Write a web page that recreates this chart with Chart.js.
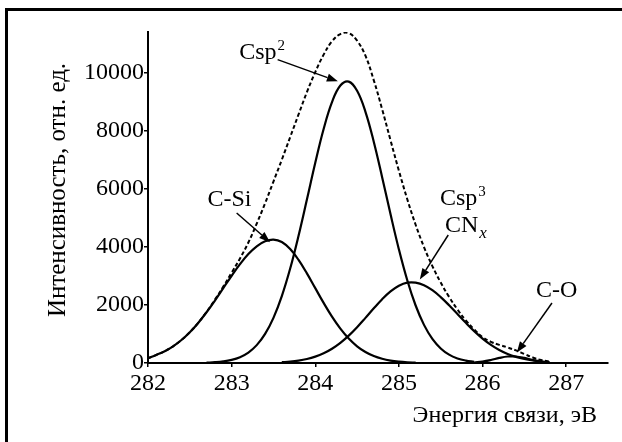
<!DOCTYPE html>
<html>
<head>
<meta charset="utf-8">
<script src="https://cdn.jsdelivr.net/npm/chart.js@4"></script>
<style>
  html, body { margin: 0; padding: 0; background: #fff; overflow: hidden; }
  #wrap { width: 622px; height: 442px; }
</style>
</head>
<body>
<div id="wrap"><canvas id="xps" width="622" height="442"></canvas></div>
<script>
// Binding energy grid, eV (282.0 ... 286.8, step 0.1)
const energy = [
    282.0, 282.1, 282.2, 282.3, 282.4, 282.5, 282.6, 282.7, 282.8, 282.9,
    283.0, 283.1, 283.2, 283.3, 283.4, 283.5, 283.6, 283.7, 283.8, 283.9,
    284.0, 284.1, 284.2, 284.3, 284.4, 284.5, 284.6, 284.7, 284.8, 284.9,
    285.0, 285.1, 285.2, 285.3, 285.4, 285.5, 285.6, 285.7, 285.8, 285.9,
    286.0, 286.1, 286.2, 286.3, 286.4, 286.5, 286.6, 286.7, 286.8
];

// Fitted components (null = not drawn)
const cSi = [
    160, 279, 406, 575, 791, 1060, 1380, 1747, 2152, 2578,
    3003, 3403, 3751, 4020, 4191, 4250, 4166, 3923, 3550, 3087,
    2578, 2069, 1595, 1182, 841, 575, 378, 238, 145, 84,
    47, 25, 13, null, null, null, null, null, null, null,
    null, null, null, null, null, null, null, null, null
];
const cSp2 = [
    null, null, null, null, null, null, null, 12, 27, 55,
    108, 202, 361, 616, 1003, 1556, 2304, 3252, 4381, 5628,
    6897, 8060, 8985, 9555, 9691, 9376, 8651, 7614, 6393, 5120,
    3912, 2850, 1980, 1313, 830, 501, 288, 158, 83, 41,
    null, null, null, null, null, null, null, null, null
];
const cSp3 = [
    null, null, null, null, null, null, null, null, null, null,
    null, null, null, null, null, null, 27, 49, 84, 138,
    219, 334, 490, 693, 942, 1233, 1554, 1883, 2197, 2465,
    2662, 2767, 2767, 2679, 2507, 2270, 1989, 1686, 1383, 1097,
    842, 625, 449, 312, 210, 137, 86, 52, 31
];
const cO = [
    null, null, null, null, null, null, null, null, null, null,
    null, null, null, null, null, null, null, null, null, null,
    null, null, null, null, null, null, null, null, null, null,
    null, null, null, null, null, null, null, null, null, 18,
    50, 105, 174, 223, 223, 174, 105, 50, 18
];
// Envelope (dashed)
const envelope = [
    160, 279, 406, 575, 791, 1060, 1380, 1760, 2180, 2630,
    3110, 3600, 4150, 4800, 5500, 6250, 7000, 7780, 8560, 9330,
    10020, 10620, 11080, 11330, 11360, 11100, 10583, 9735, 8735, 7669,
    6621, 5642, 4760, 3992, 3337, 2771, 2277, 1844, 1466, 1156,
    892, 730, 623, 535, 433, 311, 191, 102, 49
];

const xTicks = [282, 283, 284, 285, 286, 287];
const yTicks = [0, 2000, 4000, 6000, 8000, 10000];

const xTitle = 'Энергия связи, эВ';
const yTitle = 'Интенсивность, отн. ед.';

// Peak labels: text, sup/sub, anchor (data units), arrow from -> to (data units)
const labels = [
    { text: 'Csp', sup: '2', x: 283.09, y: 10480, from: [283.55, 10450], to: [284.27, 9700] },
    { text: 'C-Si', x: 282.71, y: 5420, from: [283.06, 5166], to: [283.46, 4160] },
    { text: 'Csp', sup: '3', x: 285.49, y: 5442 },
    { text: 'CN', sub: 'x', x: 285.55, y: 4512, from: [285.59, 4408], to: [285.25, 2880] },
    { text: 'C-O', x: 286.64, y: 2273, from: [286.83, 2066], to: [286.41, 360] }
];

const FONT = '"Liberation Serif", "Times New Roman", serif';

function points(vals) {
    const out = [];
    vals.forEach((v, i) => { if (v !== null) out.push({ x: energy[i], y: v }); });
    return out;
}

function drawArrow(ctx, x1, y1, x2, y2) {
    const ang = Math.atan2(y2 - y1, x2 - x1);
    const len = 11, half = 4;
    const bx = x2 - len * Math.cos(ang), by = y2 - len * Math.sin(ang);
    ctx.beginPath();
    ctx.moveTo(x1, y1);
    ctx.lineTo(bx, by);
    ctx.stroke();
    ctx.beginPath();
    ctx.moveTo(x2, y2);
    ctx.lineTo(bx - half * Math.sin(ang), by + half * Math.cos(ang));
    ctx.lineTo(bx + half * Math.sin(ang), by - half * Math.cos(ang));
    ctx.closePath();
    ctx.fill();
}

const decorPlugin = {
    id: 'decor',
    afterDraw(chart) {
        const ctx = chart.ctx;
        const xs = chart.scales.x, ys = chart.scales.y;
        ctx.save();
        ctx.fillStyle = '#000';
        ctx.strokeStyle = '#000';

        // outer frame (left and top edges visible)
        ctx.fillRect(5, 8, 3, 442);
        ctx.fillRect(5, 8, 622, 3);

        // axis titles
        ctx.font = '24px ' + FONT;
        ctx.textAlign = 'right';
        ctx.textBaseline = 'alphabetic';
        ctx.fillText(xTitle, 597, 422);
        ctx.save();
        ctx.translate(65, 190);
        ctx.rotate(-Math.PI / 2);
        ctx.textAlign = 'center';
        ctx.font = '25px ' + FONT;
        ctx.fillText(yTitle, 0, 0);
        ctx.restore();

        // peak labels + arrows
        ctx.lineWidth = 1.5;
        labels.forEach(l => {
            const px = xs.getPixelForValue(l.x), py = ys.getPixelForValue(l.y);
            ctx.font = '24px ' + FONT;
            ctx.textAlign = 'left';
            ctx.fillText(l.text, px, py);
            const w = ctx.measureText(l.text).width;
            if (l.sup) {
                ctx.font = '15px ' + FONT;
                ctx.fillText(l.sup, px + w + 1, py - 9);
            }
            if (l.sub) {
                ctx.font = 'italic 17px ' + FONT;
                ctx.fillText(l.sub, px + w + 1, py + 6);
            }
            if (l.from) {
                drawArrow(ctx,
                    xs.getPixelForValue(l.from[0]), ys.getPixelForValue(l.from[1]),
                    xs.getPixelForValue(l.to[0]), ys.getPixelForValue(l.to[1]));
            }
        });
        ctx.restore();
    }
};

function solid(vals) {
    return {
        data: points(vals),
        borderColor: '#000',
        borderWidth: 2.2,
        pointRadius: 0,
        tension: 0.4,
        fill: false
    };
}

const tickFont = { family: FONT, size: 24 };

new Chart(document.getElementById('xps'), {
    type: 'line',
    data: {
        datasets: [
            {
                data: points(envelope),
                borderColor: '#000',
                borderWidth: 2,
                borderDash: [4, 2.5],
                pointRadius: 0,
                tension: 0.4,
                fill: false
            },
            solid(cSi),
            solid(cSp2),
            solid(cSp3),
            solid(cO)
        ]
    },
    options: {
        responsive: false,
        animation: false,
        events: [],
        layout: { padding: { left: 0, top: 32, right: 14, bottom: 0 } },
        plugins: {
            legend: { display: false },
            tooltip: { enabled: false }
        },
        scales: {
            x: {
                type: 'linear',
                min: 282,
                max: 287.5,
                afterBuildTicks: s => { s.ticks = xTicks.map(v => ({ value: v })); },
                afterFit: s => { s.height = 442 - 363; },
                ticks: {
                    color: '#000',
                    font: tickFont,
                    padding: 2,
                    maxRotation: 0,
                    callback: v => String(v)
                },
                grid: { drawOnChartArea: false, color: '#000', tickLength: 4, lineWidth: 1.5 },
                border: { color: '#000', width: 2 }
            },
            y: {
                min: 0,
                max: 11400,
                afterBuildTicks: s => { s.ticks = yTicks.map(v => ({ value: v })); },
                afterFit: s => { s.width = 148; },
                ticks: {
                    color: '#000',
                    font: tickFont,
                    padding: 0,
                    callback: v => String(v)
                },
                grid: { drawOnChartArea: false, color: '#000', tickLength: 4, lineWidth: 1.5 },
                border: { color: '#000', width: 2 }
            }
        }
    },
    plugins: [decorPlugin]
});
</script>
</body>
</html>
